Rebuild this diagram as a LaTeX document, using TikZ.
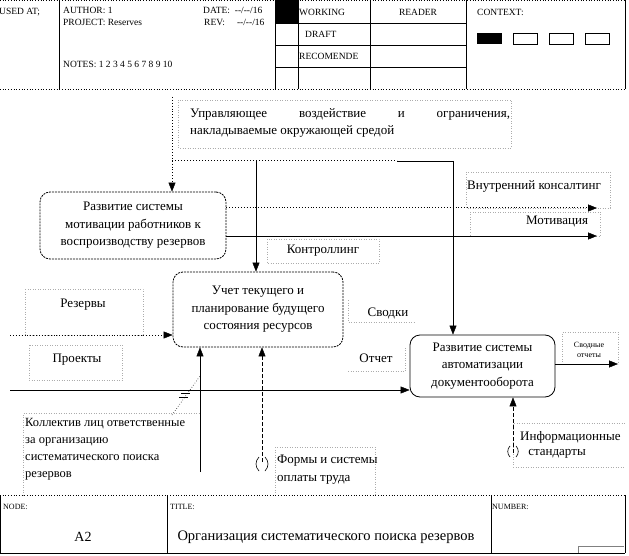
\documentclass[tikz,border=0pt]{standalone}
\usepackage{fontspec}
\setmainfont{Liberation Serif}
\newfontfamily\plainserif{Liberation Serif}
\usetikzlibrary{arrows.meta}
\begin{document}
\begin{tikzpicture}[x=1pt,y=-1pt,
  lbl/.style={draw=gray!65, dotted, line width=0.5pt},
  frame/.style={line width=0.8pt},
  dframe/.style={line width=0.7pt, dotted},
  tipA/.tip={Triangle[length=9pt,width=7pt,line width=0.4pt,fill=black]},
  conn/.style={line width=0.9pt, -tipA},
  proc/.style={rounded corners=10pt, line width=0.8pt, align=center, inner sep=0pt,
    font=\fontsize{13}{17.5}\selectfont},
  txt/.style={inner sep=0pt, font=\fontsize{13}{17.5}\selectfont},
  htxt/.style={inner sep=0pt, anchor=west, font=\fontsize{9.5}{11}\selectfont},
  ftxt/.style={inner sep=0pt, anchor=west, font=\fontsize{8}{10}\selectfont}]
\useasboundingbox (0,0) rectangle (629,556);

% ---------- header ----------
\draw[dframe] (0,89) -- (625,89);
\draw[dframe] (0,0.5) -- (625,0.5);
\foreach \x in {59,275,298,370,466,625} \draw[frame] (\x,0) -- (\x,89);
\foreach \y in {23,45,67} \draw[frame] (275,\y) -- (466,\y);
\fill (275,0) rectangle (298,23);
\node[htxt] (usedat) at (-1,12) {USED AT;};
\node[htxt] (author) at (63,10) {AUTHOR: 1};
\node[htxt] (project) at (63,22) {PROJECT: Reserves};
\node[htxt] (date) at (203,10) {DATE:\ \ {\plainserif --/--/16}};
\node[htxt] (rev) at (204,22) {REV:\ \ \ \ \ {\plainserif --/--/16}};
\node[htxt] (notes) at (63,64) {NOTES: 1 2 3 4 5 6 7 8 9 10};
\node[htxt] (working) at (299,12) {WORKING};
\node[htxt] (draft) at (305,34) {DRAFT};
\node[htxt] (recom) at (299,56) {RECOMENDE};
\node[htxt, anchor=center] (reader) at (418,12) {READER};
\node[htxt] (context) at (477,12) {CONTEXT:};
\fill (477,33) rectangle (502,44);
\draw[line width=0.6pt] (513,33) rectangle (537,44);
\draw[line width=0.6pt] (549,33) rectangle (573,44);
\draw[line width=0.6pt] (585,33) rectangle (609,44);

% ---------- process boxes ----------
\node[proc, draw, dash pattern=on 2pt off 1pt, minimum width=186pt, minimum height=67pt] (b1) at (133,225.5)
  {Развитие системы\\мотивации работников к\\воспроизводству резервов};
\node[proc, draw, dash pattern=on 2pt off 1pt, minimum width=170pt, minimum height=75pt] (b2) at (258,309.5)
  {Учет текущего и\\планирование будущего\\состояния ресурсов};
\node[proc, draw, minimum width=145pt, minimum height=62pt] (b3) at (482.5,366)
  {Развитие системы\\автоматизации\\документооборота};

% ---------- label boxes ----------
\draw[lbl] (178,100) rectangle (511,148);
\node[txt, anchor=north west, align=left] (ctrl) at (190,108)
  {\makebox[320pt][s]{Управляющее воздействие и ограничения,}\\накладываемые окружающей средой};
\draw[lbl] (466,172) rectangle (610,208);
\node[txt, anchor=west] (consult) at (467,186) {Внутренний консалтинг};
\draw[lbl] (470,212) rectangle (600,236);
\node[txt, anchor=west] (motiv) at (526,222) {Мотивация};
\draw[lbl] (267,239) rectangle (379,263);
\node[txt] (kontr) at (323,251) {Контроллинг};
\draw[lbl] (25,289) rectangle (143,335);
\node[txt] (rez) at (83,305) {Резервы};
\draw[lbl] (29,345) rectangle (122,380);
\node[txt] (proj) at (77,360) {Проекты};
\draw[lbl] (348,300) -- (348,322) -- (415,322);
\node[txt] (svodki) at (388,313) {Сводки};
\draw[lbl] (348,371) -- (405,371) -- (405,347);
\node[txt] (otchet) at (376,358) {Отчет};
\draw[lbl] (562,364) -- (562,332) -- (618,332) -- (618,364);
\node[inner sep=0pt, align=center, font=\fontsize{8}{10.5}\selectfont] (svotch) at (589,350) {Сводные\\отчеты};
\draw[lbl] (23,495) -- (23,413) -- (200,413);
\node[txt, anchor=north west, align=left, font=\fontsize{12.5}{17}\selectfont] (koll) at (25,418)
  {Коллектив лиц ответственные\\за организацию\\систематического поиска\\резервов};
\draw[lbl] (275,495) -- (275,447) -- (375,447) -- (375,495);
\node[txt, anchor=north west, align=left] (formy) at (277,455) {Формы и системы\\оплаты труда};
\draw[lbl] (513,467) -- (513,423) -- (625,423);
\draw[lbl] (513,467) -- (625,467);
\node[txt, anchor=west] (info1) at (520,437) {Информационные};
\node[txt] (info2) at (557,454) {стандарты};

% ---------- connectors ----------
\coordinate (ctop) at (172,97);
\coordinate (cj) at (172,161);
\coordinate (cb2) at (256,161);
\coordinate (cm) at (397,161);
\coordinate (cr) at (453,161);
\draw[conn, dotted, line width=1pt] (ctop) -- (ctop |- b1.north);
\draw[line width=1pt, dotted] (cj) -- (cm);
\draw[line width=0.9pt] (cm) -- (cr);
\draw[conn] (cr) -- (cr |- b3.north);
\draw[conn] (cb2) -- (cb2 |- b2.north);

\coordinate (o1) at (597,208);
\coordinate (o2) at (597,236);
\draw[conn, dotted, line width=1pt] (b1.east |- o1) -- (o1);
\draw[conn] (b1.east |- o2) -- (o2);

\coordinate (i1) at (10,335);
\coordinate (i2) at (10,390);
\draw[conn, dotted, line width=1pt] (i1) -- (i1 -| b2.west);
\draw[conn] (i2) -- (i2 -| b3.west);

\coordinate (o3) at (618,364);
\draw[conn] (b3.east |- o3) -- (o3);

\coordinate (m1) at (200,472);
\coordinate (m2) at (262,462);
\coordinate (m3) at (513,453);
\draw[conn] (m1) -- (m1 |- b2.south);
\draw[conn, dash pattern=on 4pt off 2pt] (m2) -- (m2 |- b2.south);
\draw[conn, dash pattern=on 4pt off 2pt] (m3) -- (m3 |- b3.south);

% leader and tunnel marks
\draw[dotted, line width=0.6pt] (172,415) -- (200,376);
\draw[line width=0.6pt] (181,393) -- (190,393);
\draw[line width=0.6pt] (179,397) -- (188,397);
\draw[line width=0.6pt] (259,457) .. controls (255,461) and (255,467) .. (259,471);
\draw[line width=0.6pt] (265,457) .. controls (269,461) and (269,467) .. (265,471);
\draw[line width=0.6pt] (510,446) .. controls (507,449) and (507,454) .. (510,457);
\draw[line width=0.6pt] (516,446) .. controls (519,449) and (519,454) .. (516,457);

% ---------- footer ----------
\draw[dframe] (0,495) -- (625,495);
\draw[frame] (0,553) -- (625,553);
\draw[frame] (0.5,495) -- (0.5,553);
\draw[frame] (625,495) -- (625,553);
\draw[frame] (167,495) -- (167,553);
\draw[frame] (491,495) -- (491,553);
\node[ftxt] (nodel) at (3,507) {NODE:};
\node[ftxt] (titlel) at (170,507) {TITLE:};
\node[ftxt] (numl) at (492,507) {NUMBER:};
\node[txt, font=\fontsize{14}{17}\selectfont] (a2) at (83,537) {A2};
\node[txt, font=\fontsize{14.5}{17}\selectfont] (title) at (326,537) {Организация систематического поиска резервов};
\draw[line width=0.6pt, draw=gray] (578,553) -- (578,546) -- (624,546);
\end{tikzpicture}
\end{document}
